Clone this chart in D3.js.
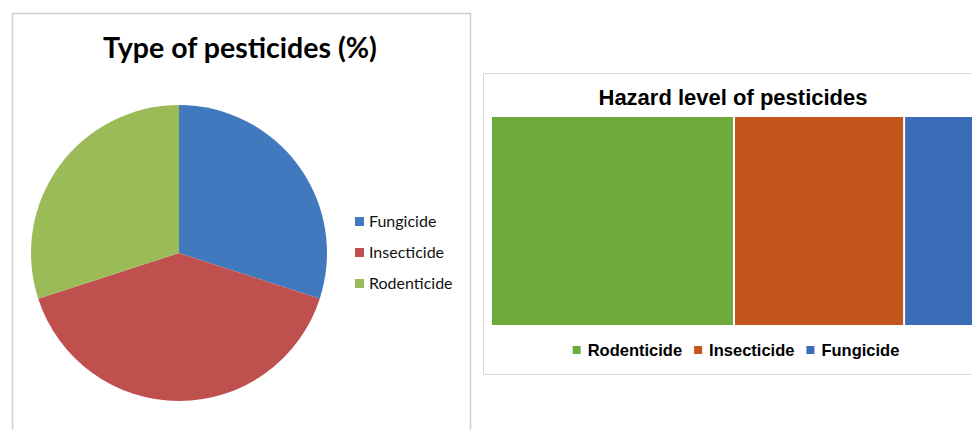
<!DOCTYPE html>
<html>
<head>
<meta charset="utf-8">
<script src="https://cdn.jsdelivr.net/npm/d3@7"></script>
<style>
  body { margin: 0; background: #fff; }
  svg { display: block; }
</style>
</head>
<body>
<div id="content"></div>
<script>
var width = 972;
var height = 430;

// left chart: type of pesticides (%)
var typeNames = ['Fungicide', 'Insecticide', 'Rodenticide'];
var typeValues = [30, 40, 30];
var typeColors = ['#4179be', '#c0504d', '#9bbb59'];

// right chart: hazard level
var hazardNames = ['Rodenticide', 'Insecticide', 'Fungicide'];
var hazardValues = [50, 35, 15];
var hazardColors = ['#6cab3c', '#c4551b', '#3b6cb7'];

var svg = d3.select('div#content').append('svg')
    .attr('width', width)
    .attr('height', height);

// ---- left panel ----
svg.append('rect')
    .attr('x', 12.5).attr('y', 13.5)
    .attr('width', 458).attr('height', 440)
    .attr('fill', '#fff')
    .attr('stroke', '#cfcfcf')
    .attr('stroke-width', 1.5);

svg.append('text')
    .attr('x', 240).attr('y', 58)
    .attr('text-anchor', 'middle')
    .style('font-family', 'Lato, "Open Sans", sans-serif')
    .style('font-weight', 'bold')
    .style('font-size', '28.5px')
    .attr('fill', '#000')
    .text('Type of pesticides (%)');

var pie = d3.pie().sort(null).value(function(d){ return d; });
var arc = d3.arc().innerRadius(0).outerRadius(148);

var pieG = svg.append('g').attr('transform', 'translate(179,253)');
pieG.selectAll('path')
    .data(pie(typeValues)).enter()
        .append('path')
            .attr('d', arc)
            .attr('fill', function(d, i){ return typeColors[i]; });

var legL = svg.append('g').attr('transform', 'translate(355,221)');
var legLItem = legL.selectAll('g')
    .data(typeNames).enter()
        .append('g')
            .attr('transform', function(d, i){ return 'translate(0,' + (i * 31) + ')'; });
legLItem.append('rect')
    .attr('x', 0).attr('y', -4)
    .attr('width', 9).attr('height', 9)
    .attr('fill', function(d, i){ return typeColors[i]; });
legLItem.append('text')
    .attr('x', 14).attr('y', 5.5)
    .style('font-family', 'Lato, "Open Sans", sans-serif')
    .style('font-size', '16px')
    .attr('fill', '#111')
    .text(function(d){ return d; });

// ---- right panel ----
svg.append('rect')
    .attr('x', 483.5).attr('y', 73.5)
    .attr('width', 520).attr('height', 301)
    .attr('fill', '#fff')
    .attr('stroke', '#d9d9d9')
    .attr('stroke-width', 1);

svg.append('text')
    .attr('x', 733).attr('y', 105)
    .attr('text-anchor', 'middle')
    .style('font-family', '"Liberation Sans", Arial, sans-serif')
    .style('font-weight', 'bold')
    .style('font-size', '22px')
    .attr('fill', '#000')
    .text('Hazard level of pesticides');

var root = d3.hierarchy({children: hazardNames.map(function(n, i){
        return {name: n, value: hazardValues[i], idx: i};
    })})
    .sum(function(d){ return d.value || 0; });

d3.treemap()
    .tile(d3.treemapDice)
    .size([484, 208])
    .paddingInner(2)(root);

var tm = svg.append('g').attr('transform', 'translate(492,117)');
tm.selectAll('rect')
    .data(root.leaves()).enter()
        .append('rect')
            .attr('x', function(d){ return d.x0; })
            .attr('y', function(d){ return d.y0; })
            .attr('width', function(d){ return d.x1 - d.x0; })
            .attr('height', function(d){ return d.y1 - d.y0; })
            .attr('fill', function(d){ return hazardColors[d.data.idx]; });

// bottom legend, laid out by measured text widths
var legR = svg.append('g');
var lx = 0;
hazardNames.forEach(function(n, i){
    var g = legR.append('g');
    g.append('rect')
        .attr('x', 0).attr('y', -4)
        .attr('width', 8).attr('height', 8)
        .attr('fill', hazardColors[i]);
    var t = g.append('text')
        .attr('x', 15).attr('y', 6)
        .style('font-family', '"Liberation Sans", Arial, sans-serif')
        .style('font-weight', 'bold')
        .style('font-size', '16.5px')
        .attr('fill', '#000')
        .text(n);
    g.attr('transform', 'translate(' + lx + ',0)');
    lx += 15 + t.node().getComputedTextLength() + 12;
});
lx -= 12;
legR.attr('transform', 'translate(' + (736 - lx / 2) + ',350)');
</script>
</body>
</html>
